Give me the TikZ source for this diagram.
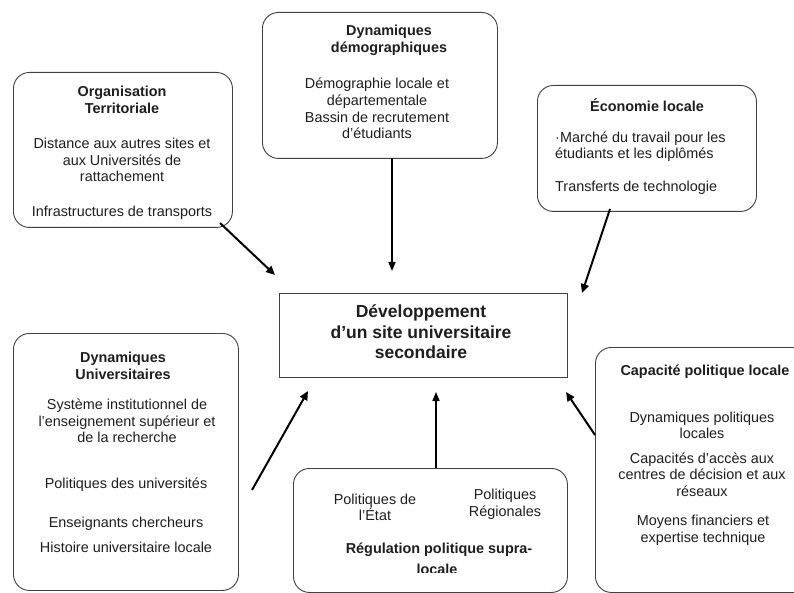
\documentclass[tikz,border=0pt]{standalone}
\usepackage{fontspec}
\setmainfont{Liberation Sans}
\usetikzlibrary{arrows.meta}
\definecolor{boxgray}{HTML}{404040}
\definecolor{textcol}{HTML}{1E1E1E}
\begin{document}
\begin{tikzpicture}[x=1pt,y=-1pt,
  box/.style={draw=boxgray, line width=0.9pt, rounded corners=16pt, inner sep=0, anchor=north west},
  centralbox/.style={draw=boxgray, line width=1.4pt, inner sep=0, anchor=north west},
  txt/.style={inner sep=0, align=center, text=textcol, font=\fontsize{14.4}{16.6}\selectfont},
  ltxt/.style={inner sep=0, align=left, text=textcol, font=\fontsize{14.4}{16.6}\selectfont},
  ttl/.style={inner sep=0, align=center, text=textcol, font=\bfseries\fontsize{14.4}{16.6}\selectfont},
  bigttl/.style={inner sep=0, align=center, text=textcol, font=\bfseries\fontsize{17.5}{20.5}\selectfont},
  flow/.style={draw=black, line width=2pt, -{Triangle[length=9pt,width=8pt]}},
  thinflow/.style={draw=black, line width=1.6pt, -{Triangle[length=9pt,width=7pt]}}
]
\useasboundingbox (0,0) rectangle (794,593);
\fill[white] (0,0) rectangle (794,593);

% boxes
\node[box, minimum width=219pt, minimum height=155pt] (org) at (13,72) {};
\node[box, minimum width=235pt, minimum height=146pt] (dem) at (262,12) {};
\node[box, minimum width=219pt, minimum height=126pt] (eco) at (537,85) {};
\node[box, minimum width=225pt, minimum height=257pt] (univ) at (13,333) {};
\node[box, minimum width=274pt, minimum height=124pt] (reg) at (293,468) {};
\node[box, minimum width=220pt, minimum height=245pt] (cap) at (595,347) {};
\node[centralbox, minimum width=288pt, minimum height=84pt] (dev) at (279,293) {};

% central text
\node[bigttl] (devt) at (421,332) {Développement\\d’un site universitaire\\secondaire};

% Organisation territoriale
\node[ttl] (orgt) at (122,100) {Organisation\\Territoriale};
\node[txt] (orgb) at (122,160) {Distance aux autres sites et\\aux Universités de\\rattachement};
\node[txt] (orgc) at (122,213) {Infrastructures de transports};

% Dynamiques démographiques
\node[ttl] (demt) at (389,40.5) {Dynamiques\\démographiques};
\node[txt] (demb) at (377,108.5) {Démographie locale et\\départementale\\Bassin de recrutement\\d’étudiants};

% Economie locale
\node[ttl] (ecot) at (647,105) {Économie locale};
\node[ltxt, anchor=west] (ecob) at (555,146.5) {·Marché du travail pour les\\étudiants et les diplômés};
\node[ltxt, anchor=west] (ecoc) at (555,188) {Transferts de technologie};

% Dynamiques universitaires
\node[ttl] (univt) at (123,366) {Dynamiques\\Universitaires};
\node[txt] (univb) at (127,421) {Système institutionnel de\\l’enseignement supérieur et\\de la recherche};
\node[txt] (univc) at (126,485) {Politiques des universités};
\node[txt] (univd) at (126,524) {Enseignants chercheurs};
\node[txt] (unive) at (126,547) {Histoire universitaire locale};

% Regulation politique supra-locale
\node[txt] (rega) at (375,507.5) {Politiques de\\l’État};
\node[txt] (regb) at (505,504) {Politiques\\Régionales};
\node[ttl] (regt) at (439,550) {Régulation politique supra-};
\begin{scope}
  \clip (300,558) rectangle (560,572);
  \node[ttl] (regu) at (437,569) {locale};
\end{scope}

% Capacite politique locale
\node[ttl] (capt) at (705,372) {Capacité politique locale};
\node[txt] (capb) at (702,425.5) {Dynamiques politiques\\locales};
\node[txt] (capc) at (702,474.5) {Capacités d’accès aux\\centres de décision et aux\\réseaux};
\node[txt] (capd) at (703,530) {Moyens financiers et\\expertise technique};

% arrow end points
\coordinate (orgs) at (220,223);
\coordinate (orge) at (275,275);
\coordinate (dems) at (392,158);
\coordinate (deme) at (392,271);
\coordinate (ecos) at (610,209);
\coordinate (ecoe) at (582,293);
\coordinate (univs) at (252,490);
\coordinate (unive2) at (308,391);
\coordinate (regs) at (436,468);
\coordinate (rege) at (436,392);
\coordinate (caps) at (595,435);
\coordinate (cape) at (566,392);

\draw[flow] (orgs) -- (orge);
\draw[thinflow] (dems) -- (deme);
\draw[flow] (ecos) -- (ecoe);
\draw[flow] (univs) -- (unive2);
\draw[thinflow] (regs) -- (rege);
\draw[flow] (caps) -- (cape);
\end{tikzpicture}
\end{document}
